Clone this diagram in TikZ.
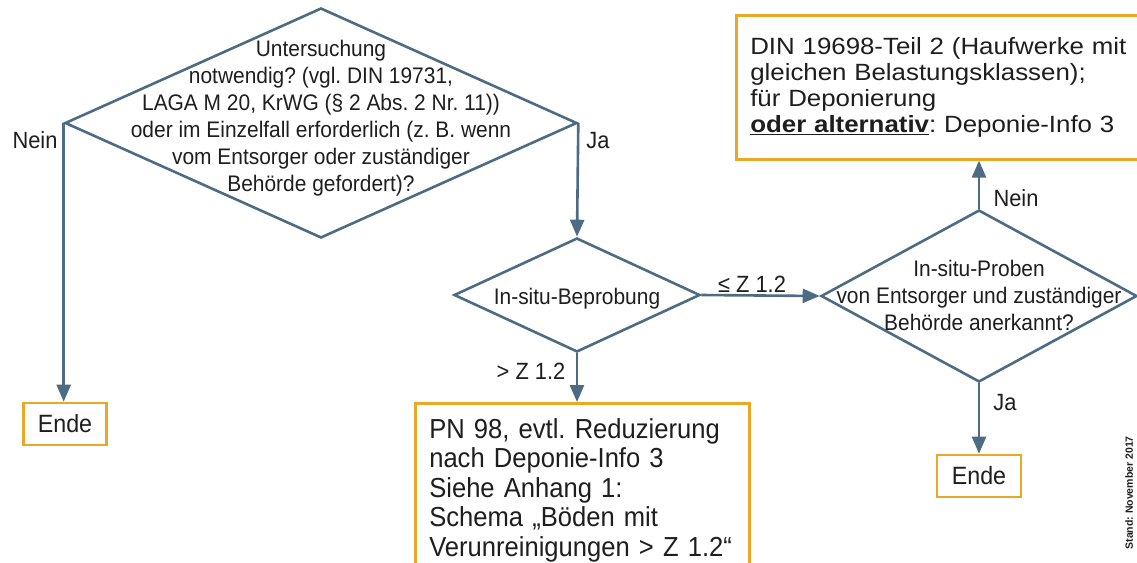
\documentclass[tikz,border=0pt]{standalone}
\usepackage{fontspec}
\setmainfont{Liberation Sans}
\newfontfamily\cond[FakeStretch=0.93]{Liberation Sans}
\newfontfamily\wide[FakeStretch=1.1]{Liberation Sans}
\usetikzlibrary{shapes.geometric,arrows.meta}
\definecolor{linec}{HTML}{4D6B82}
\definecolor{boxc}{HTML}{EAA825}
\definecolor{txt}{HTML}{1E1E1E}
\frenchspacing
\begin{document}
\begin{tikzpicture}[x=1pt,y=-1pt,
  dia/.style={diamond, draw=linec, line width=2.6pt, inner sep=0pt},
  arr/.style={draw=linec, line width=2.6pt, -{Triangle[length=17pt,width=14pt]}},
  obox/.style={draw=boxc, line width=2.6pt, fill=white, text=txt},
  dtext/.style={text=txt, font=\cond\fontsize{22.5}{27}\selectfont, align=center, inner sep=0pt},
  lab/.style={text=txt, font=\cond\fontsize{23.5}{28}\selectfont, inner sep=0pt}
]
\useasboundingbox (0,0) rectangle (1137,562);

% diamonds
\node[dia, minimum width=512pt, minimum height=230pt] (d1) at (321,123) {};
\node[dtext] (t1) at (321,118) {Untersuchung\\notwendig? (vgl. DIN 19731,\\LAGA M 20, KrWG (§ 2 Abs. 2 Nr. 11))\\oder im Einzelfall erforderlich (z. B. wenn\\vom Entsorger oder zuständiger\\Behörde gefordert)?};

\node[dia, minimum width=246pt, minimum height=114pt] (d2) at (577,295) {};
\node[dtext] (t2) at (577,299) {In-situ-Beprobung};

\node[dia, minimum width=316pt, minimum height=172pt] (d3) at (979,296) {};
\node[dtext] (t3) at (979,295) {In-situ-Proben\\von Entsorger und zuständiger\\Behörde anerkannt?};

% boxes
\node[obox, minimum width=83pt, minimum height=42pt, inner sep=0pt, font=\cond\fontsize{25}{30}\selectfont] (e1) at (65,424) {Ende};
\node[obox, minimum width=84pt, minimum height=42pt, inner sep=0pt, font=\cond\fontsize{25}{30}\selectfont] (e2) at (979,476) {Ende};

\node[obox, anchor=north west, minimum height=144pt, text width=400pt, align=left, inner xsep=14pt, inner ysep=0pt, font=\wide\fontsize{23.5}{26}\selectfont] (big) at (735,14) {DIN 19698-Teil 2 (Haufwerke mit\\gleichen Belastungsklassen);\\für Deponierung\\\underline{\textbf{oder alternativ}}: Deponie-Info 3};

\node[obox, anchor=north west, text width=306pt, align=left, inner xsep=14pt, inner ysep=15pt, font=\cond\fontsize{27.5}{29.5}\selectfont] (pn) at (414,402) {PN 98, evtl. Reduzierung\\nach Deponie-Info 3\\Siehe Anhang 1:\\Schema „Böden mit\\Verunreinigungen > Z 1.2“};

% connectors
\draw[arr] (d1.west) -- (d1.west |- e1.north);
\draw[arr] (d1.east) -- (d2.north);
\draw[arr] (d2.south) -- (d2.south |- pn.north);
\draw[arr] (d2.east) -- (d3.west);
\draw[arr] (d3.north) -- (d3.north |- big.south);
\draw[arr] (d3.south) -- (d3.south |- e2.north);

% labels
\node[lab] (ln1) at (35,140) {Nein};
\node[lab] (lj1) at (598,141) {Ja};
\node[lab] (lz1) at (531,371) {> Z 1.2};
\node[lab] (lz2) at (752,284) {≤ Z 1.2};
\node[lab] (ln2) at (1016,198) {Nein};
\node[lab] (lj2) at (1005,403) {Ja};

\node[rotate=90, anchor=east, inner sep=0pt, text=txt, font=\bfseries\fontsize{10.5}{12}\selectfont] (stand) at (1129,436) {Stand: November 2017};
\end{tikzpicture}
\end{document}
